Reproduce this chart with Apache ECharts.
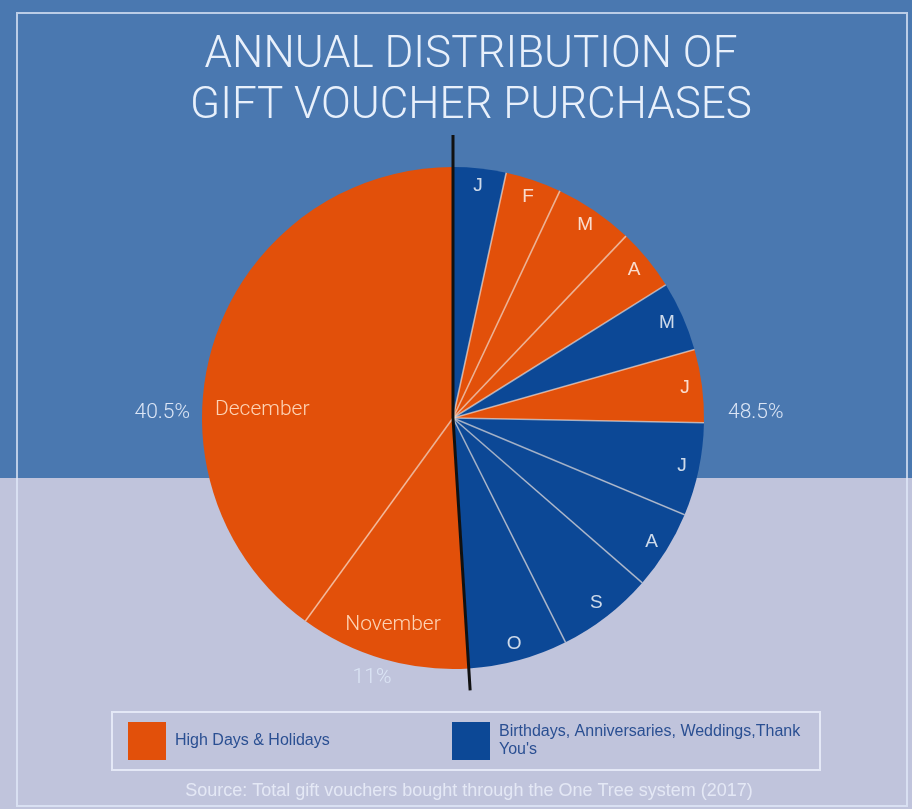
<!DOCTYPE html>
<html><head><meta charset="utf-8">
<script src="https://cdn.jsdelivr.net/npm/echarts@6/dist/echarts.min.js"></script>
<style>html,body{margin:0;padding:0;background:#c0c4dc}#c{width:912px;height:809px}</style>
</head><body><div id="c"></div>
<script>
// ---- data ----
const months = ['January','February','March','April','May','June','July','August','September','October','November','December'];
const initials = ['J','F','M','A','M','J','J','A','S','O','',''];
const monthNames = ['','','','','','','','','','','November','December'];
// slice sizes (% of the year) as drawn
const shares = [3.4, 3.6, 5.1, 4.0, 4.5, 4.7, 6.0, 5.1, 6.2, 6.4, 11.0, 40.0];
const occasion = ['B','H','H','H','B','H','B','B','B','B','H','H'];
// totals printed on the chart (Jan–Oct, November, December)
const groupTotals = [48.5, 11, 40.5];
const legendNames = ['High Days & Holidays', "Birthdays, Anniversaries, Weddings,Thank You's"];
const titleText = 'ANNUAL DISTRIBUTION OF\nGIFT VOUCHER PURCHASES';
const sourceText = 'Source: Total gift vouchers bought through the One Tree system (2017)';

// ---- styling / layout ----
const ORANGE = '#e2500a', BLUE = '#0c4896';
const colorOf = {H: ORANGE, B: BLUE};
const CX = 453, CY = 418, R = 251;
const W = 912, H = 809, SPLIT = 478;

const sum = a => a.reduce((s, v) => s + v, 0);
const total = sum(shares);
const fmtPct = v => (+v.toFixed(1)) + '%';

// cumulative boundary angles (clockwise from 12 o'clock)
const bounds = [];
{ let acc = 0; shares.forEach(v => { acc += v; bounds.push(acc / total * 2 * Math.PI); }); }
const divAng = bounds[9];               // Oct / Nov boundary
const topLen = 283, botLen = 273;
const pt = (a, r) => [CX + r * Math.sin(a), CY - r * Math.cos(a)];

const separators = bounds.slice(0, 11).map(a => ({
  type: 'line', z: 100, silent: true,
  shape: {x1: CX, y1: CY, x2: pt(a, R)[0], y2: pt(a, R)[1]},
  style: {stroke: 'rgba(255,240,228,0.6)', lineWidth: 1.6}
}));

const chart = echarts.init(document.getElementById('c'), null, {renderer: 'canvas'});
const transparent = {color: 'rgba(0,0,0,0)', borderWidth: 0};
const LABEL_FONT = 'Liberation Sans';

chart.setOption({
  animation: false,
  backgroundColor: '#c0c4dc',
  title: [
    {text: titleText, left: 466, top: 25, textAlign: 'center',
     textStyle: {color: '#e8f0fb', fontSize: 44, fontWeight: 300, fontFamily: 'Roboto', lineHeight: 51}},
    {text: sourceText, left: 464, top: 777, textAlign: 'center',
     textStyle: {color: '#e4e8f5', fontSize: 18, fontWeight: 'normal', fontFamily: LABEL_FONT}}
  ],
  legend: {
    data: [
      {name: legendNames[0], textStyle: {width: 266}},
      {name: legendNames[1], textStyle: {width: 316}}
    ],
    left: 112, top: 712, orient: 'horizontal',
    padding: [10, 5, 10, 16],
    itemWidth: 38, itemHeight: 38, itemGap: 11,
    icon: 'rect', selectedMode: false,
    borderColor: '#e4e8f6', borderWidth: 2,
    textStyle: {color: '#2a4f92', fontSize: 16, fontFamily: LABEL_FONT, overflow: 'break',
                lineHeight: 18, padding: [0, 0, 0, 4]}
  },
  graphic: [
    {type: 'rect', z: -10, shape: {x: 0, y: 0, width: W, height: SPLIT}, style: {fill: '#4a78b0'}},
    {type: 'rect', z: -10, shape: {x: 0, y: SPLIT, width: W, height: H - SPLIT}, style: {fill: '#c0c4dc'}},
    {type: 'rect', z: -9, shape: {x: 17, y: 13, width: 890, height: 793},
     style: {fill: 'none', stroke: 'rgba(225,233,250,0.75)', lineWidth: 2}},
    ...separators,
    {type: 'polyline', z: 101, silent: true,
     shape: {points: [pt(0, topLen), [CX, CY], pt(divAng, botLen)]},
     style: {stroke: '#111', lineWidth: 3, fill: null}}
  ],
  series: [
    { // main slices
      type: 'pie', center: [CX, CY], radius: R, startAngle: 90, clockwise: true,
      silent: true, label: {show: false}, labelLine: {show: false},
      itemStyle: {borderWidth: 0},
      data: months.map((m, i) => ({name: m, value: shares[i], itemStyle: {color: colorOf[occasion[i]]}}))
    },
    { // month initials near the rim
      type: 'pie', center: [CX, CY], radius: [R * 0.84, R], startAngle: 90, silent: true,
      avoidLabelOverlap: false, itemStyle: transparent, labelLine: {show: false},
      label: {show: true, position: 'inside', color: 'rgba(255,255,255,0.8)', fontSize: 19,
              fontFamily: LABEL_FONT, formatter: p => initials[p.dataIndex]},
      data: months.map((m, i) => ({name: m + ' ', value: shares[i]}))
    },
    { // month names for Nov / Dec
      type: 'pie', center: [CX, CY], radius: [R * 0.69, R], startAngle: 90, silent: true,
      avoidLabelOverlap: false, itemStyle: transparent, labelLine: {show: false},
      label: {show: true, position: 'inside', color: 'rgba(255,222,196,0.92)', fontSize: 21,
              fontFamily: 'Roboto', fontWeight: 300, formatter: p => monthNames[p.dataIndex]},
      labelLayout: p => p.dataIndex === 11 ? {x: CX - R * 0.76, y: CY - 8, align: 'center', verticalAlign: 'middle'} : {},
      data: months.map((m, i) => ({name: m + '  ', value: shares[i]}))
    },
    { // printed group totals outside the pie
      type: 'pie', center: [CX, CY], radius: R, startAngle: 90, silent: true,
      avoidLabelOverlap: false, itemStyle: transparent,
      labelLine: {show: false},
      label: {show: true, position: 'outside', color: '#dbe5f5', fontSize: 21,
              fontFamily: 'Roboto', fontWeight: 300, formatter: p => fmtPct(p.value)},
      labelLayout: p => {
        if (p.dataIndex === 0) return {x: CX + R + 24, y: CY - 5, align: 'left', verticalAlign: 'middle'};
        if (p.dataIndex === 1) return {x: CX - 81, y: CY + 260, align: 'center', verticalAlign: 'middle'};
        return {x: CX - R - 12, y: CY - 5, align: 'right', verticalAlign: 'middle'};
      },
      data: groupTotals.map((v, i) => ({name: 'g' + i, value: v}))
    },
    { // legend carrier (invisible)
      type: 'pie', center: [CX, CY], radius: 0, silent: true, label: {show: false}, labelLine: {show: false},
      data: [{name: legendNames[0], value: 1, itemStyle: {color: ORANGE}},
             {name: legendNames[1], value: 1, itemStyle: {color: BLUE}}]
    }
  ]
});
</script></body></html>
